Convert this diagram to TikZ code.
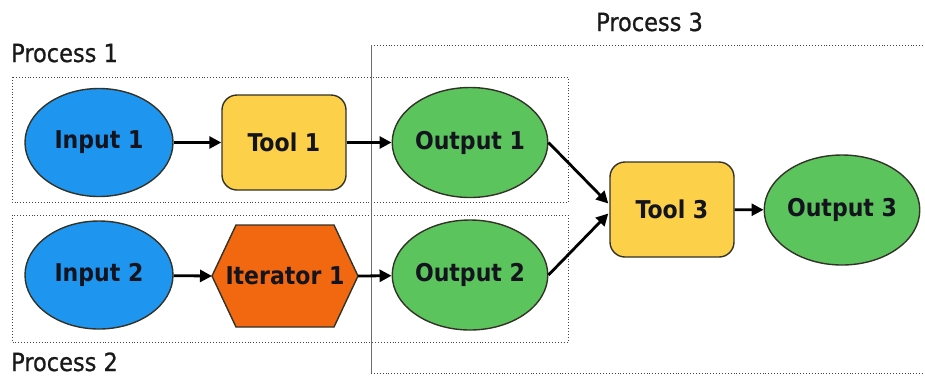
\documentclass[tikz,border=0pt]{standalone}
\usepackage{fontspec}
\setmainfont{DejaVu Sans Condensed}
\newfontfamily\labfont{DejaVu Sans Condensed}[FakeBold=0.8]
\usetikzlibrary{shapes.geometric,arrows.meta,calc}
\definecolor{inblue}{RGB}{30,150,240}
\definecolor{toolyel}{RGB}{252,208,72}
\definecolor{outgreen}{RGB}{92,196,92}
\definecolor{iterorg}{RGB}{242,104,16}
\definecolor{edgecol}{RGB}{50,50,40}
\definecolor{txtcol}{RGB}{20,20,30}
\definecolor{boxgray}{RGB}{70,70,70}
\tikzset{
  base/.style={draw=edgecol, line width=1.4pt, text=txtcol, font=\fontsize{24.5}{26}\selectfont\bfseries, inner sep=0pt},
  inputnode/.style={base, ellipse, fill=inblue, minimum width=148pt, minimum height=108pt},
  outputnode/.style={base, ellipse, fill=outgreen, minimum width=150pt, minimum height=110pt},
  toolnode/.style={base, rounded corners=15pt, fill=toolyel, minimum width=124pt, minimum height=95pt},
  flow/.style={line width=2.8pt, -{Triangle[length=12pt,width=12pt]}},
  procbox/.style={draw=boxgray, line width=0.9pt, dotted},
  proclabel/.style={font=\labfont\fontsize{25}{27}\selectfont, text=black!90, inner sep=0pt, anchor=base west},
}
\begin{document}
\begin{tikzpicture}[x=1pt,y=-1pt]
\useasboundingbox (0,0) rectangle (925,376);
% process boxes
\draw[procbox] (12,77) rectangle (568,202);
\draw[procbox] (12,215) rectangle (568,342);
\draw[procbox] (923,45) -- (371,45);
\draw[procbox] (371,373) -- (923,373);
\draw[draw=boxgray!80, line width=0.9pt] (371,45) -- (371,373);
\node[proclabel] (p1) at (11,62) {Process 1};
\node[proclabel] (p2) at (11,371) {Process 2};
\node[proclabel] (p3) at (596,31) {Process 3};
% nodes
\node[inputnode] (in1) at (99,142.5) {Input 1};
\node[toolnode] (t1) at (284,142.5) {Tool 1};
\node[outputnode] (o1) at (470,142.5) {Output 1};
\node[inputnode] (in2) at (99,275) {Input 2};
\node[outputnode] (o2) at (470,275) {Output 2};
\node[toolnode] (t3) at (672,209.5) {Tool 3};
\node[outputnode] (o3) at (842,210) {Output 3};
% iterator hexagon
\coordinate (itc) at (285,276);
\draw[base, fill=iterorg] (212,276) -- (236,225) -- (334,225) -- (358,276) -- (334,327) -- (236,327) -- cycle;
\node[base, draw=none, fill=none] (it) at (itc) {Iterator 1};
\coordinate (itw) at (212,276);
\coordinate (ite) at (358,276);
% connectors
\draw[flow] (in1) -- (t1);
\draw[flow] (t1) -- (o1);
\draw[flow] (in2) -- (itw);
\draw[flow] (ite) -- (o2);
\draw[flow] (o1.east) -- ($(t3.west)+(-1,-6)$);
\draw[flow] (o2.east) -- ($(t3.west)+(-1,4)$);
\draw[flow] (t3) -- (o3);
\end{tikzpicture}
\end{document}
